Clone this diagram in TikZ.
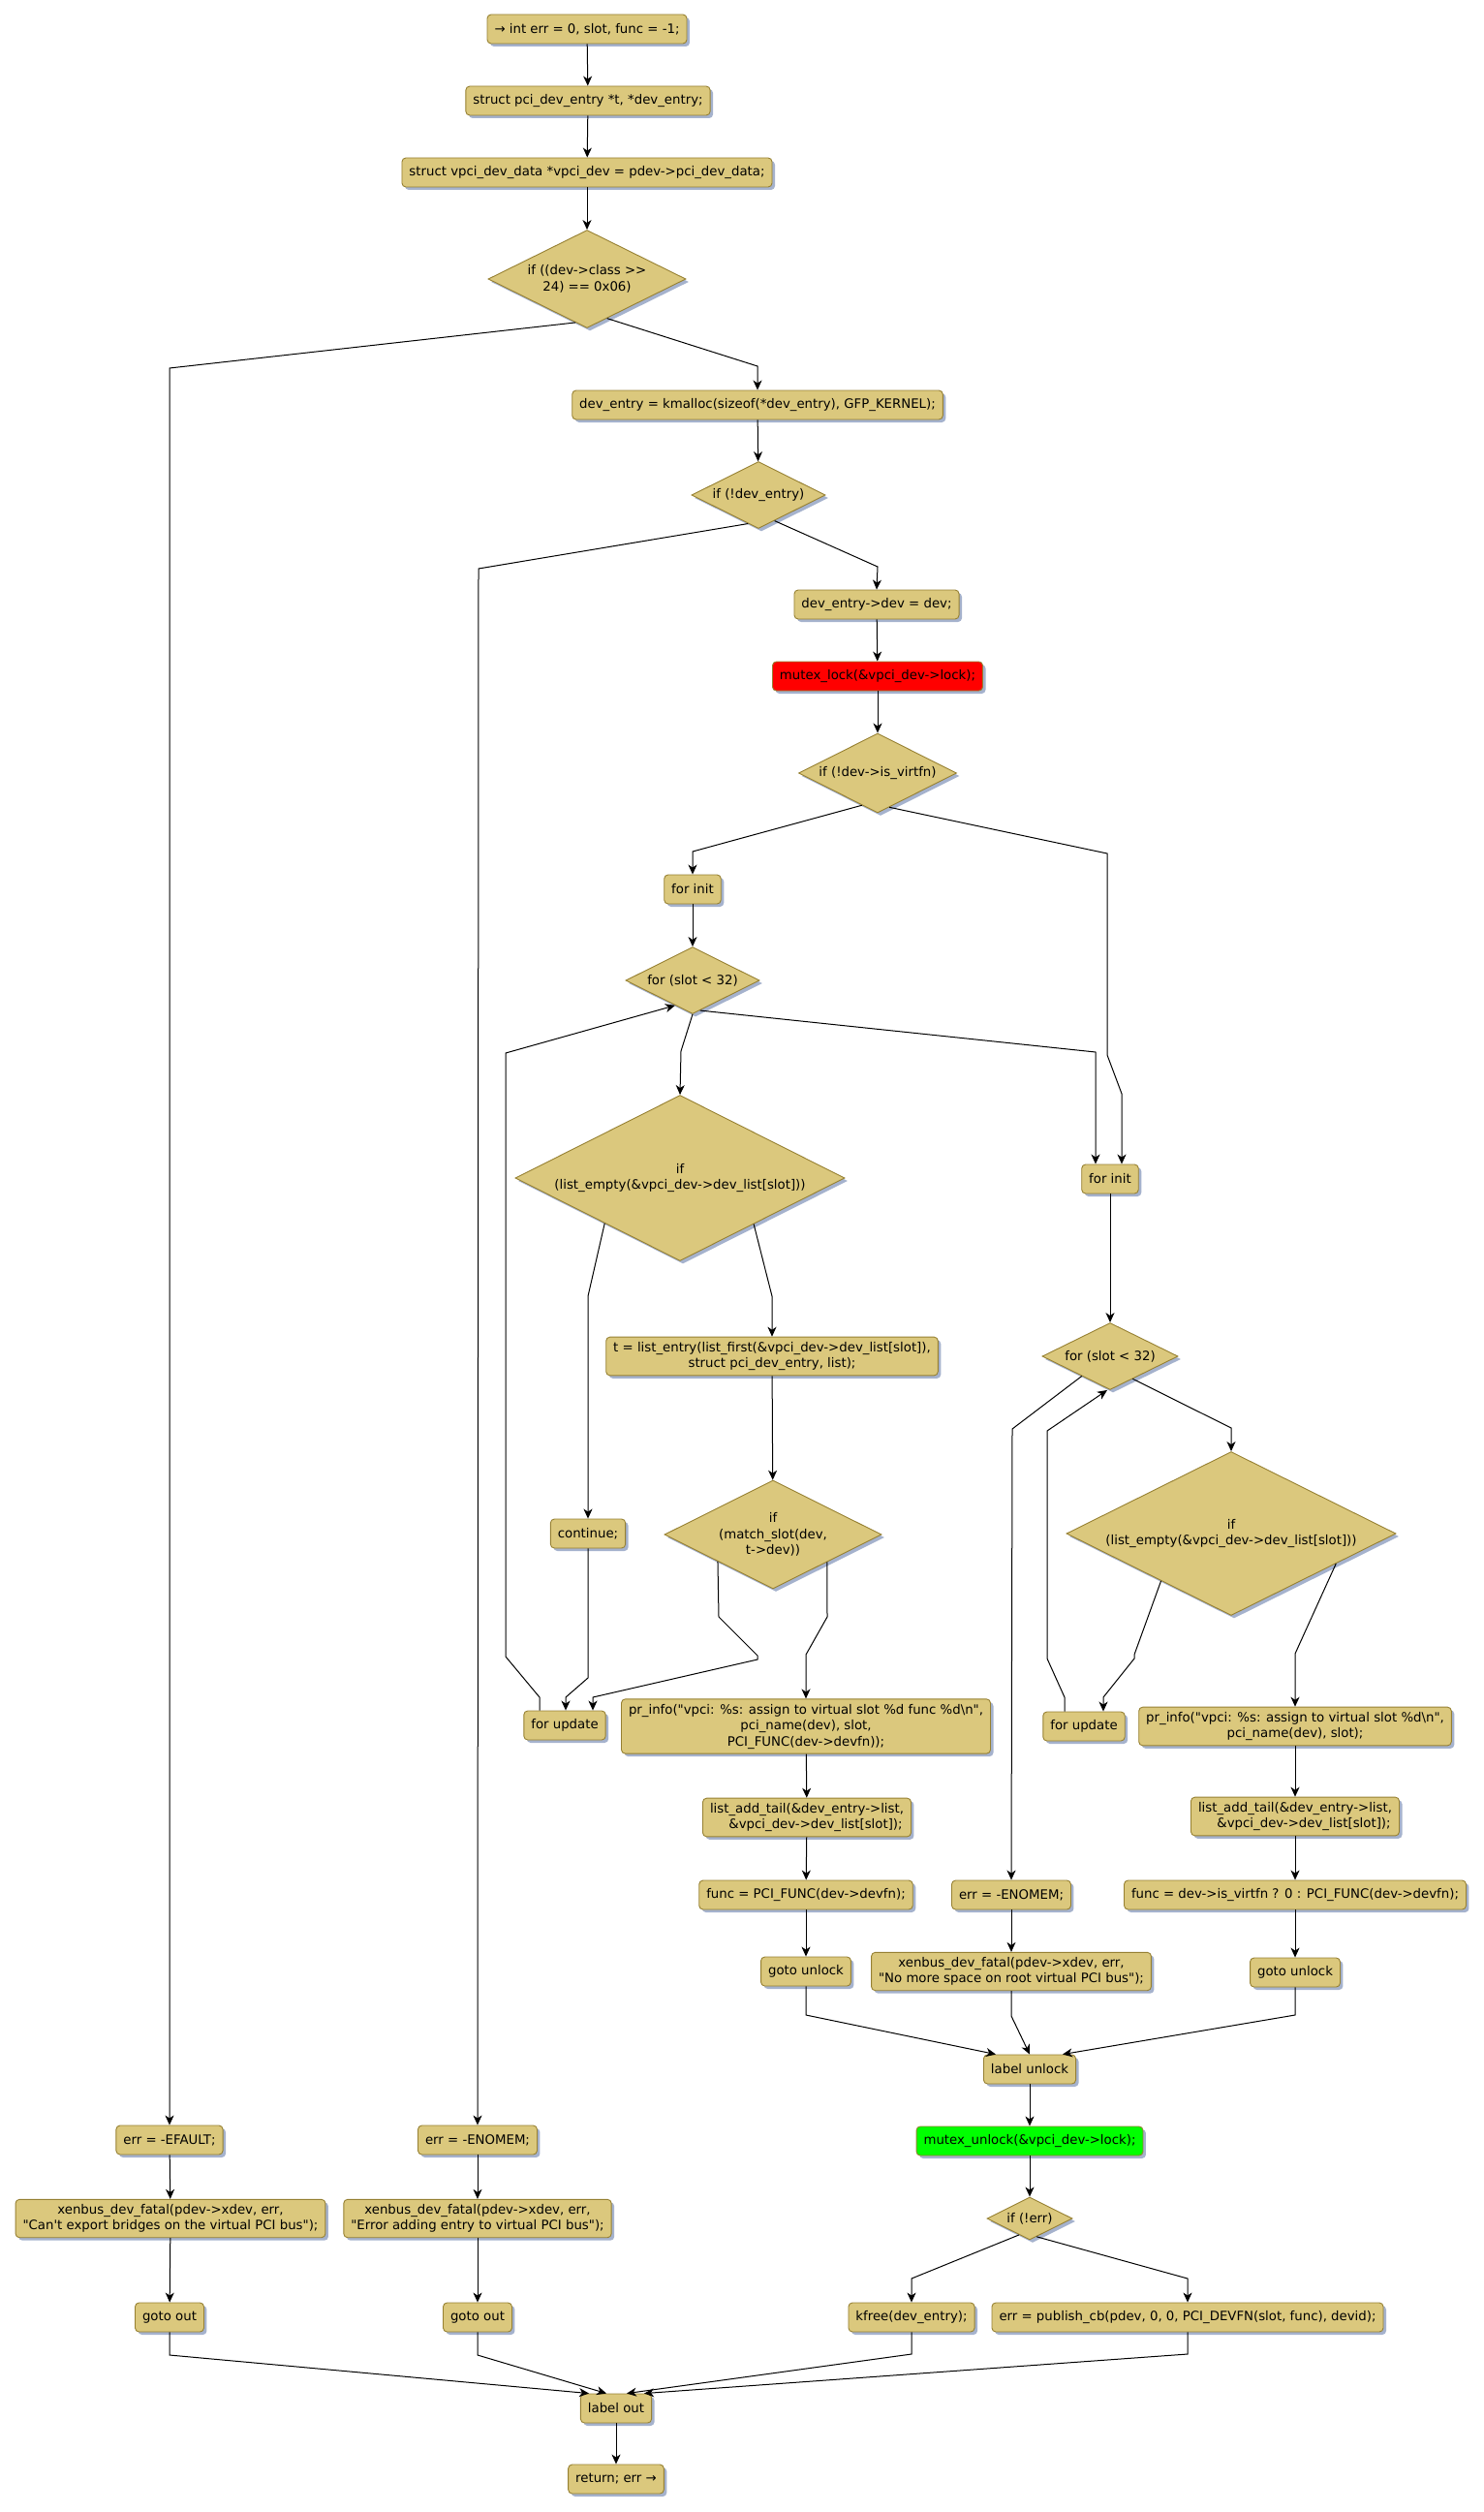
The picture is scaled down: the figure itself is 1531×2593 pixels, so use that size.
\documentclass[tikz,border=0pt]{standalone}
\usepackage{fontspec}
\setmainfont{DejaVu Sans}[Ligatures=TeXOff]
\usetikzlibrary{shapes.geometric,arrows.meta,shadows}
\definecolor{boxfill}{RGB}{219,200,125}
\definecolor{boxdraw}{RGB}{150,128,50}
\definecolor{shadowc}{RGB}{165,178,205}
\definecolor{lockred}{RGB}{255,0,0}
\definecolor{lockgreen}{RGB}{0,255,0}
\tikzset{
  base/.style={draw=boxdraw, fill=boxfill, line width=0.9pt,
    font=\fontsize{13.3}{16.5}\selectfont, align=center,
    general shadow={fill=shadowc, shadow xshift=3pt, shadow yshift=-3pt}},
  act/.style={base, rounded corners=4pt, minimum height=30pt, inner xsep=7.5pt, inner ysep=5pt},
  dec/.style={base, diamond, inner sep=0pt},
  flow/.style={draw=black, line width=1pt, -{Stealth[length=10pt,width=9pt,inset=3pt]}},
}
\begin{document}
\begin{tikzpicture}[x=1pt,y=-1pt]
\useasboundingbox (0,0) rectangle (1531,2593);
% top chain
\node[act] (n1) at (606,30) {→ int err = 0, slot, func = -1;};
\node[act] (n2) at (607,104) {struct pci\_dev\_entry *t, *dev\_entry;};
\node[act] (n3) at (606,178) {struct vpci\_dev\_data *vpci\_dev = pdev->pci\_dev\_data;};
\node[dec, minimum width=204pt, minimum height=101pt, aspect=2.02] (d1) at (606,288) {if ((dev->class >>\\24) == 0x06)};
\node[act] (n4) at (782,418) {dev\_entry = kmalloc(sizeof(*dev\_entry), GFP\_KERNEL);};
\node[dec, minimum width=138pt, minimum height=69pt, aspect=2] (d2) at (783,511) {if (!dev\_entry)};
\node[act] (n5) at (905,624) {dev\_entry->dev = dev;};
\node[act, fill=lockred] (n6) at (906,698) {mutex\_lock(\&vpci\_dev->lock);};
\node[dec, minimum width=163pt, minimum height=82pt, aspect=2] (d3) at (906,798) {if (!dev->is\_virtfn)};
% left loop
\node[act] (fi1) at (715,918) {for init};
\node[dec, minimum width=138pt, minimum height=69pt, aspect=2] (d4) at (715,1012) {for (slot < 32)};
\node[dec, minimum width=340pt, minimum height=171pt, aspect=2] (d5) at (702,1216) {if\\(list\_empty(\&vpci\_dev->dev\_list[slot]))};
\node[act] (n8) at (797,1400) {t = list\_entry(list\_first(\&vpci\_dev->dev\_list[slot]),\\struct pci\_dev\_entry, list);};
\node[act] (cont) at (607,1583) {continue;};
\node[dec, minimum width=224pt, minimum height=112pt, aspect=2] (d6) at (798,1584) {if\\(match\_slot(dev,\\t->dev))};
\node[act] (fu1) at (583,1781) {for update};
\node[act] (pi1) at (832,1782) {pr\_info("vpci: \%s: assign to virtual slot \%d func \%d\textbackslash n",\\pci\_name(dev), slot,\\PCI\_FUNC(dev->devfn));};
\node[act] (la1) at (833,1876) {list\_add\_tail(\&dev\_entry->list,\\\hspace*{18pt}\&vpci\_dev->dev\_list[slot]);};
\node[act] (fn1) at (832,1956) {func = PCI\_FUNC(dev->devfn);};
\node[act] (gu1) at (832,2035) {goto unlock};
% right loop
\node[act] (fi2) at (1146,1217) {for init};
\node[dec, minimum width=140pt, minimum height=69pt, aspect=2] (d7) at (1146,1400) {for (slot < 32)};
\node[dec, minimum width=340pt, minimum height=169pt, aspect=2] (d8) at (1271,1583) {if\\(list\_empty(\&vpci\_dev->dev\_list[slot]))};
\node[act] (fu2) at (1119,1782) {for update};
\node[act] (pi2) at (1337,1782) {pr\_info("vpci: \%s: assign to virtual slot \%d\textbackslash n",\\pci\_name(dev), slot);};
\node[act] (la2) at (1337,1875) {list\_add\_tail(\&dev\_entry->list,\\\hspace*{18pt}\&vpci\_dev->dev\_list[slot]);};
\node[act] (fn2) at (1337,1956) {func = dev->is\_virtfn ? 0 : PCI\_FUNC(dev->devfn);};
\node[act] (gu2) at (1337,2036) {goto unlock};
\node[act] (em2) at (1044,1956) {err = -ENOMEM;};
\node[act] (xe3) at (1044,2035) {xenbus\_dev\_fatal(pdev->xdev, err,\\"No more space on root virtual PCI bus");};
% unlock part
\node[act] (lu) at (1063,2136) {label unlock};
\node[act, fill=lockgreen] (mu) at (1063,2210) {mutex\_unlock(\&vpci\_dev->lock);};
\node[dec, minimum width=88pt, minimum height=44pt, aspect=2] (d9) at (1063,2290) {if (!err)};
\node[act] (kf) at (941,2392) {kfree(dev\_entry);};
\node[act] (pb) at (1226,2392) {err = publish\_cb(pdev, 0, 0, PCI\_DEVFN(slot, func), devid);};
% left columns
\node[act] (ef) at (175,2209) {err = -EFAULT;};
\node[act] (xe1) at (176,2290) {xenbus\_dev\_fatal(pdev->xdev, err,\\"Can't export bridges on the virtual PCI bus");};
\node[act] (go1) at (175,2392) {goto out};
\node[act] (em1) at (493,2209) {err = -ENOMEM;};
\node[act] (xe2) at (493,2290) {xenbus\_dev\_fatal(pdev->xdev, err,\\"Error adding entry to virtual PCI bus");};
\node[act] (go2) at (493,2392) {goto out};
\node[act] (lo) at (636,2486) {label out};
\node[act] (rt) at (636,2559) {return; err →};

% connectors
\draw[flow] (n1) -- (n2);
\draw[flow] (n2) -- (n3);
\draw[flow] (n3) -- (d1);
\draw[flow] (d1.255) -- (175,380) -- (ef.north);
\draw[flow] (d1.297) -- (782,378) -- (n4.north);
\draw[flow] (n4) -- (d2);
\draw[flow] (d2.250.5) -- (494,587) -- (em1.north);
\draw[flow] (d2.302) -- (906,585) -- (n5.north);
\draw[flow] (n5) -- (n6);
\draw[flow] (n6) -- (d3);
\draw[flow] (d3.244) -- (715,879) -- (fi1.north);
\coordinate (c12) at (1158,1129);
\draw[flow] (d3.289) -- (1143,881) -- (1143,1089) -- (c12) -- (c12 |- fi2.north);
\draw[flow] (fi1) -- (d4);
\draw[flow] (d4.south) -- (703,1085) -- (d5.north);
\coordinate (c15) at (1131,1086);
\draw[flow] (d4.284.5) -- (c15) -- (c15 |- fi2.north);
\draw[flow] (d5.211.7) -- (607,1338) -- (cont.north);
\draw[flow] (d5.328.6) -- (797,1338) -- (n8.north);
\draw[flow] (n8) -- (d6);
\coordinate (c19) at (584,1752);
\draw[flow] (cont.south) -- (607,1732) -- (c19) -- (c19 |- fu1.north);
\coordinate (c20) at (612,1752);
\draw[flow] (d6.206.6) -- (742,1669) -- (782,1709) -- (782,1713) -- (c20) -- (c20 |- fu1.north);
\coordinate (c21) at (557,1752);
\draw[flow] (c21 |- fu1.north) -- (c21) -- (522,1710) -- (522,1087) -- (d4.235);
\draw[flow] (d6.333.4) -- (854,1669) -- (832,1708) -- (pi1.north);
\draw[flow] (pi1) -- (la1);
\draw[flow] (la1) -- (fn1);
\draw[flow] (fn1) -- (gu1);
\draw[flow] (gu1.south) -- (832,2080) -- ([xshift=-35pt]lu.north);
\draw[flow] (fi2) -- (d7);
\draw[flow] (d7.215.9) -- (1045,1475) -- (em2.north);
\draw[flow] (d7.315) -- (1271,1474) -- (d8.north);
\coordinate (c28) at (1139,1752);
\draw[flow] (d8.214.4) -- (1171,1708) -- (1171,1712) -- (c28) -- (c28 |- fu2.north);
\draw[flow] (d8.344.4) -- (1337,1707) -- (pi2.north);
\coordinate (c30) at (1099,1752);
\draw[flow] (c30 |- fu2.north) -- (c30) -- (1081,1712) -- (1081,1477) -- ([xshift=-3pt]d7.south);
\draw[flow] (pi2) -- (la2);
\draw[flow] (la2) -- (fn2);
\draw[flow] (fn2) -- (gu2);
\draw[flow] (gu2.south) -- (1337,2080) -- ([xshift=34pt]lu.north);
\draw[flow] (em2) -- (xe3);
\draw[flow] (xe3.south) -- (1044,2081) -- (lu.north);
\draw[flow] (lu) -- (mu);
\draw[flow] (mu) -- (d9);
\draw[flow] (d9.237) -- (941,2352) -- (kf.north);
\draw[flow] (d9.291) -- (1226,2352) -- (pb.north);
\draw[flow] (ef) -- (xe1);
\draw[flow] (xe1) -- (go1);
\draw[flow] (em1) -- (xe2);
\draw[flow] (xe2) -- (go2);
\draw[flow] (go1.south) -- (175,2431) -- ([xshift=-28pt]lo.north);
\draw[flow] (go2.south) -- (493,2431) -- ([xshift=-10pt]lo.north);
\draw[flow] (kf.south) -- (941,2430) -- ([xshift=11pt]lo.north);
\draw[flow] (pb.south) -- (1226,2430) -- ([xshift=29pt]lo.north);
\draw[flow] (lo) -- (rt);
\end{tikzpicture}
\end{document}
